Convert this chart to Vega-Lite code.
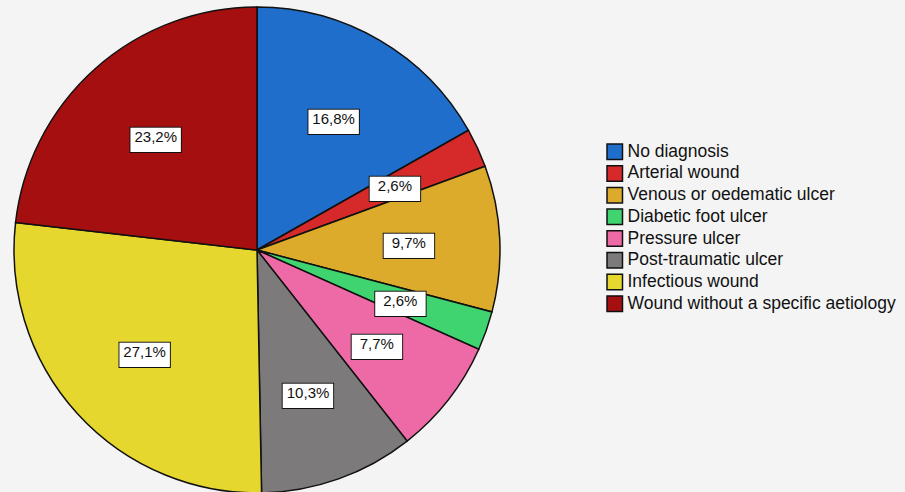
{
  "$schema": "https://vega.github.io/schema/vega-lite/v6.json",
  "width": 514,
  "height": 500,
  "padding": {"left": 0, "top": 0, "right": 60, "bottom": 0},
  "background": "#f4f4f4",
  "view": {"stroke": null},
  "data": {
    "values": [
      {"order": 1, "diagnosis": "No diagnosis", "pct": 16.8, "label": "16,8%"},
      {"order": 2, "diagnosis": "Arterial wound", "pct": 2.6, "label": "2,6%"},
      {"order": 3, "diagnosis": "Venous or oedematic ulcer", "pct": 9.7, "label": "9,7%"},
      {"order": 4, "diagnosis": "Diabetic foot ulcer", "pct": 2.6, "label": "2,6%"},
      {"order": 5, "diagnosis": "Pressure ulcer", "pct": 7.7, "label": "7,7%"},
      {"order": 6, "diagnosis": "Post-traumatic ulcer", "pct": 10.3, "label": "10,3%"},
      {"order": 7, "diagnosis": "Infectious wound", "pct": 27.1, "label": "27,1%"},
      {"order": 8, "diagnosis": "Wound without a specific aetiology", "pct": 23.2, "label": "23,2%"}
    ]
  },
  "encoding": {
    "theta": {"field": "pct", "type": "quantitative", "stack": true},
    "order": {"field": "order", "type": "quantitative"}
  },
  "layer": [
    {
      "mark": {"type": "arc", "outerRadius": 243, "stroke": "#111", "strokeWidth": 1.5},
      "encoding": {
        "color": {
          "field": "diagnosis",
          "type": "nominal",
          "sort": ["No diagnosis", "Arterial wound", "Venous or oedematic ulcer", "Diabetic foot ulcer", "Pressure ulcer", "Post-traumatic ulcer", "Infectious wound", "Wound without a specific aetiology"],
          "scale": {
            "domain": ["No diagnosis", "Arterial wound", "Venous or oedematic ulcer", "Diabetic foot ulcer", "Pressure ulcer", "Post-traumatic ulcer", "Infectious wound", "Wound without a specific aetiology"],
            "range": ["#1f6ecb", "#d62a2a", "#dcab2c", "#3fd46f", "#ee6aa6", "#7c7a7a", "#e6d72f", "#a50f10"]
          },
          "legend": {
            "title": null,
            "orient": "none",
            "legendX": 606,
            "legendY": 143,
            "symbolType": "square",
            "symbolSize": 240,
            "symbolStrokeColor": "#111",
            "symbolStrokeWidth": 1.5,
            "symbolOpacity": 1,
            "labelFont": "Liberation Sans",
            "labelFontSize": 17.5,
            "labelColor": "#111",
            "labelOffset": 4,
            "labelLimit": 400,
            "rowPadding": -0.3
          }
        }
      }
    },
    {
      "mark": {"type": "text", "radius": 152, "text": "▬", "font": "DejaVu Sans", "fontSize": 66, "fill": "#111", "stroke": "#111", "strokeWidth": 2, "baseline": "middle", "align": "center"}
    },
    {
      "mark": {"type": "text", "radius": 152, "text": "▬", "font": "DejaVu Sans", "fontSize": 66, "fill": "#ffffff", "baseline": "middle", "align": "center"}
    },
    {
      "mark": {"type": "text", "radius": 152, "font": "Liberation Sans", "fontSize": 15, "fill": "#111", "baseline": "middle", "align": "center"},
      "encoding": {"text": {"field": "label"}}
    }
  ]
}
